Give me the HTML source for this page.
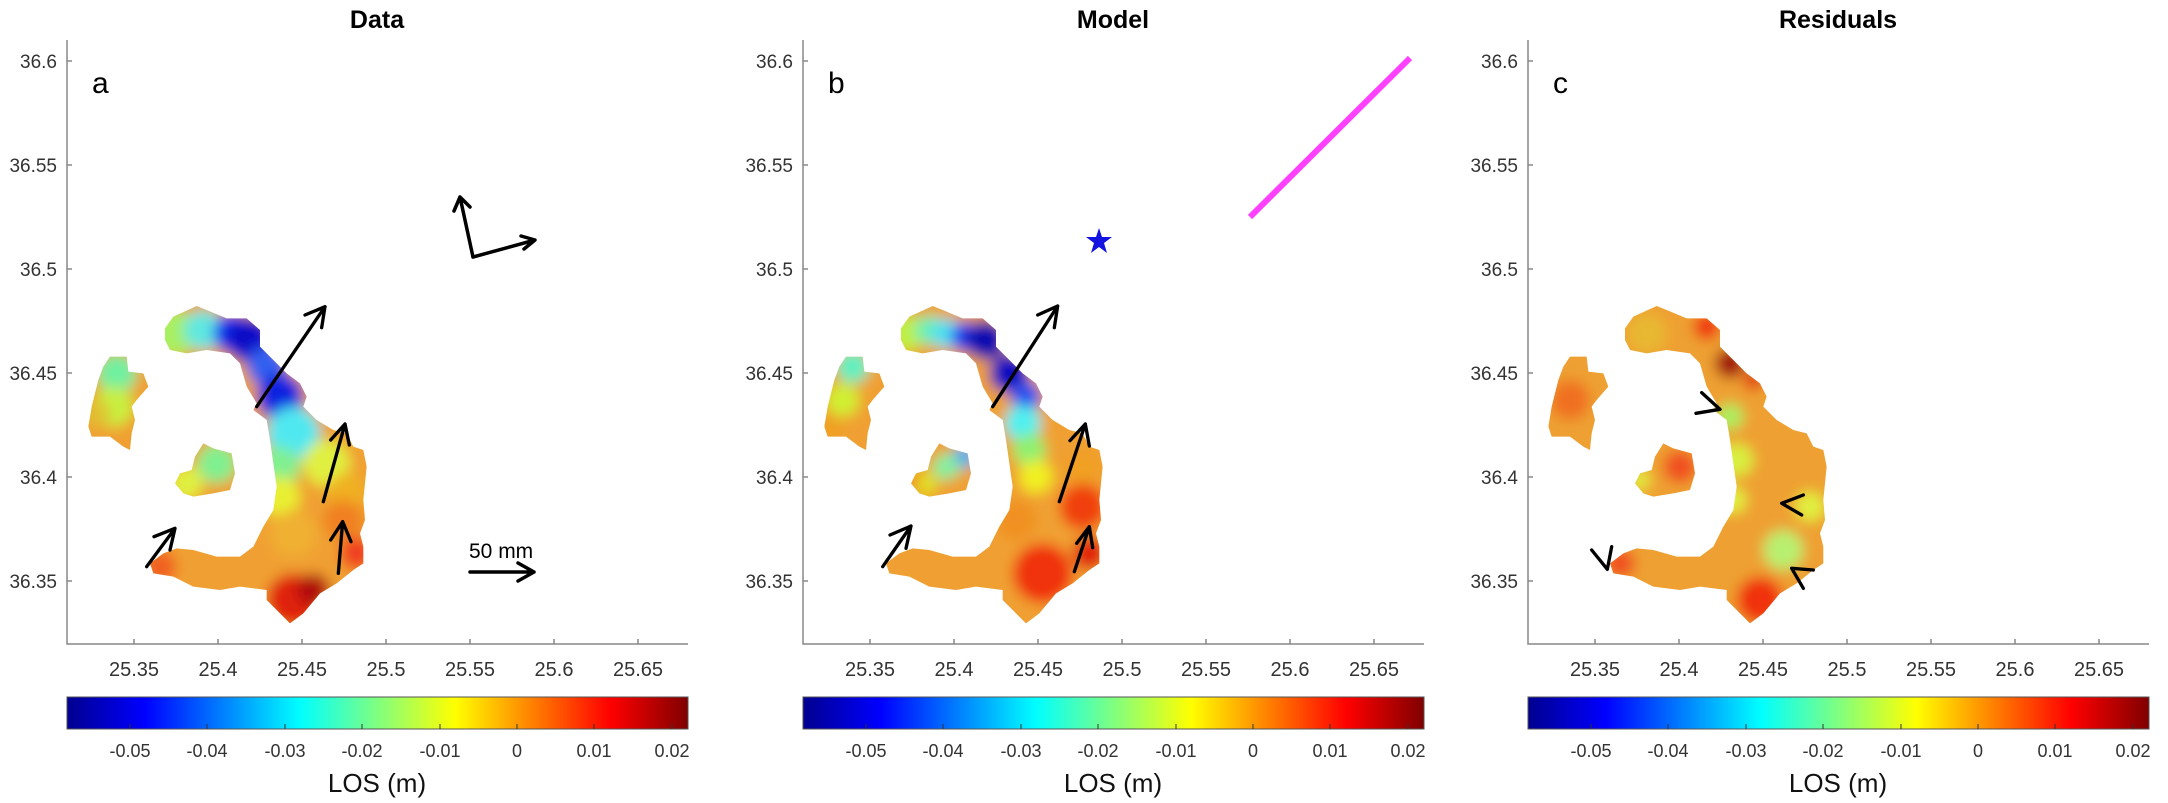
<!DOCTYPE html>
<html><head><meta charset="utf-8"><style>
html,body{margin:0;padding:0;background:#fff;}
svg{display:block;font-family:"Liberation Sans",Arial,sans-serif;}
</style></head><body>
<svg width="2168" height="803" viewBox="0 0 2168 803" xmlns="http://www.w3.org/2000/svg">
<defs>
<linearGradient id="jet" x1="0" x2="1" y1="0" y2="0">
<stop offset="0" stop-color="#00008f"/><stop offset="0.125" stop-color="#0000ff"/>
<stop offset="0.375" stop-color="#00ffff"/><stop offset="0.625" stop-color="#ffff00"/>
<stop offset="0.875" stop-color="#ff0000"/><stop offset="1" stop-color="#800000"/>
</linearGradient>
<clipPath id="isl" clipPathUnits="userSpaceOnUse">
<polygon points="315,385 340,350 410,318 440,330 500,355 560,355 600,390 600,440 640,480 680,520 720,550 740,590 730,620 770,660 820,690 860,700 880,740 910,750 920,800 910,900 915,960 900,1000 910,1040 910,1090 880,1110 830,1150 780,1180 730,1240 690,1270 660,1240 620,1200 620,1170 540,1160 480,1170 400,1160 340,1130 280,1120 270,1090 310,1060 350,1045 400,1050 470,1070 540,1070 580,1040 610,980 640,930 650,860 640,790 630,720 620,660 580,630 590,610 560,560 540,490 510,460 440,450 380,460 330,450 315,420"/>
<polygon points="150,470 200,470 205,515 250,520 265,560 230,600 215,620 225,660 215,700 210,750 190,740 150,710 95,710 85,680 95,620 115,540 130,500"/>
<polygon points="430,730 460,745 515,760 525,820 510,870 460,880 400,890 370,880 345,850 360,820 395,810 405,770"/>
</clipPath>
<filter id="bl" filterUnits="userSpaceOnUse" x="0" y="200" width="1100" height="1200"><feGaussianBlur stdDeviation="20"/></filter>
</defs>

<!-- PANEL A -->
<g>
<text x="377" y="28" text-anchor="middle" font-size="25" font-weight="bold" fill="#000">Data</text>
<text x="92" y="93" font-size="30" fill="#000">a</text>
<g transform="translate(60,200) scale(0.33333)">
<g clip-path="url(#isl)"><g filter="url(#bl)">
<rect x="0" y="250" width="1000" height="1100" fill="#f0a030"/>
<circle cx="340" cy="400" r="70" fill="#a8f060"/>
<circle cx="430" cy="390" r="60" fill="#60e8e0"/>
<circle cx="520" cy="400" r="60" fill="#1030f0"/>
<circle cx="570" cy="420" r="70" fill="#0808c8"/>
<circle cx="620" cy="500" r="60" fill="#3060f0"/>
<circle cx="660" cy="590" r="70" fill="#1020e0"/>
<circle cx="700" cy="700" r="80" fill="#50e8f0"/>
<circle cx="660" cy="800" r="60" fill="#80f090"/>
<circle cx="800" cy="790" r="70" fill="#e0f040"/>
<circle cx="660" cy="890" r="60" fill="#e8f030"/>
<circle cx="860" cy="880" r="60" fill="#f0b020"/>
<circle cx="850" cy="960" r="60" fill="#f08020"/>
<circle cx="700" cy="1000" r="70" fill="#f0b030"/>
<circle cx="300" cy="1100" r="50" fill="#f06020"/>
<circle cx="700" cy="1200" r="80" fill="#e02010"/>
<circle cx="760" cy="1170" r="50" fill="#b01010"/>
<circle cx="890" cy="1060" r="50" fill="#f04020"/>
<circle cx="170" cy="520" r="60" fill="#70f0a0"/>
<circle cx="160" cy="620" r="60" fill="#c8f040"/>
<circle cx="110" cy="640" r="40" fill="#e0c030"/>
<circle cx="470" cy="790" r="60" fill="#80f090"/>
<circle cx="380" cy="850" r="50" fill="#e0f040"/>
</g></g>
<g stroke="#000" stroke-width="10" fill="none" stroke-linecap="round" stroke-linejoin="round">
<path d="M590,620 L795,320 M735,345 L795,320 L785,383"/>
<path d="M790,905 L855,672 M812,720 L855,672 L868,735"/>
<path d="M835,1120 L848,965 M812,1020 L848,965 L873,1025"/>
<path d="M260,1100 L345,985 M282,1010 L345,985 L330,1050"/>
</g>
</g>
<g stroke="#000" stroke-width="3.5" fill="none" stroke-linecap="round" stroke-linejoin="round">
<path d="M473,257 L460,197 M454,211 L460,197 L470,207"/>
<path d="M473,257 L535,240 M521,236 L535,240 L524,249"/>
<path d="M470,572 L534,572 M518,563 L534,572 L518,581"/>
</g>
<text x="469" y="558" font-size="21" fill="#000">50 mm</text>
</g>

<!-- PANEL B -->
<g>
<text x="1113" y="28" text-anchor="middle" font-size="25" font-weight="bold" fill="#000">Model</text>
<text x="828" y="93" font-size="30" fill="#000">b</text>
<g transform="translate(796,200) scale(0.33333)">
<g clip-path="url(#isl)"><g filter="url(#bl)">
<rect x="0" y="250" width="1000" height="1100" fill="#f0a030"/>
<circle cx="330" cy="400" r="55" fill="#c0f040"/>
<circle cx="400" cy="390" r="45" fill="#70f0b0"/>
<circle cx="450" cy="400" r="45" fill="#50e0f0"/>
<circle cx="510" cy="410" r="45" fill="#2040f0"/>
<circle cx="570" cy="420" r="60" fill="#0808b0"/>
<circle cx="640" cy="520" r="60" fill="#0a0ac0"/>
<circle cx="690" cy="590" r="45" fill="#2050f0"/>
<circle cx="680" cy="670" r="55" fill="#50f0f0"/>
<circle cx="700" cy="750" r="50" fill="#90f070"/>
<circle cx="720" cy="830" r="50" fill="#f0f020"/>
<circle cx="860" cy="800" r="50" fill="#f0a020"/>
<circle cx="860" cy="920" r="70" fill="#f04010"/>
<circle cx="660" cy="960" r="60" fill="#f09020"/>
<circle cx="740" cy="1120" r="90" fill="#f03010"/>
<circle cx="880" cy="1060" r="50" fill="#e02010"/>
<circle cx="400" cy="1100" r="80" fill="#f0a030"/>
<circle cx="170" cy="500" r="50" fill="#60f0c0"/>
<circle cx="140" cy="600" r="50" fill="#d0f030"/>
<circle cx="100" cy="690" r="40" fill="#f0a020"/>
<circle cx="505" cy="770" r="35" fill="#40b0f0"/>
<circle cx="450" cy="800" r="40" fill="#80f0a0"/>
<circle cx="390" cy="850" r="35" fill="#e0e020"/>
<circle cx="345" cy="840" r="25" fill="#f09020"/>
</g></g>
<g stroke="#000" stroke-width="10" fill="none" stroke-linecap="round" stroke-linejoin="round">
<path d="M590,620 L785,318 M725,345 L785,318 L775,383"/>
<path d="M790,905 L868,672 M822,722 L868,672 L880,738"/>
<path d="M835,1115 L880,980 M842,1030 L880,980 L890,1043"/>
<path d="M260,1100 L345,978 M282,1005 L345,978 L330,1045"/>
</g>
</g>
<polygon points="1099,228 1102,237 1112,237 1104,243 1107,253 1099,247 1091,253 1094,243 1086,237 1096,237" fill="#1414e0"/>
<line x1="1250" y1="217" x2="1410" y2="58" stroke="#ff40ff" stroke-width="6"/>
</g>

<!-- PANEL C -->
<g>
<text x="1838" y="28" text-anchor="middle" font-size="25" font-weight="bold" fill="#000">Residuals</text>
<text x="1553" y="93" font-size="30" fill="#000">c</text>
<g transform="translate(1520,200) scale(0.33333)">
<g clip-path="url(#isl)"><g filter="url(#bl)">
<rect x="0" y="250" width="1000" height="1100" fill="#eea030"/>
<circle cx="380" cy="400" r="60" fill="#e8b830"/>
<circle cx="560" cy="380" r="40" fill="#f03010"/>
<circle cx="630" cy="490" r="45" fill="#a01010"/>
<circle cx="700" cy="540" r="30" fill="#e03010"/>
<circle cx="630" cy="650" r="40" fill="#a8f060"/>
<circle cx="650" cy="780" r="50" fill="#d8f040"/>
<circle cx="640" cy="900" r="40" fill="#e0f040"/>
<circle cx="870" cy="920" r="45" fill="#e0f040"/>
<circle cx="790" cy="1050" r="60" fill="#b8f070"/>
<circle cx="720" cy="1200" r="70" fill="#f03010"/>
<circle cx="300" cy="1090" r="45" fill="#f05020"/>
<circle cx="150" cy="600" r="60" fill="#f07020"/>
<circle cx="480" cy="800" r="50" fill="#f05020"/>
<circle cx="360" cy="840" r="30" fill="#e0f040"/>
</g></g>
<g stroke="#000" stroke-width="10" fill="none" stroke-linecap="round" stroke-linejoin="round">
<path d="M545,578 L600,628 L528,640"/>
<path d="M850,885 L785,910 L845,945"/>
<path d="M880,1110 L815,1105 L850,1165"/>
<path d="M215,1050 L262,1108 L275,1040"/>
</g>
</g>
</g>

<!-- axes, ticks, colorbars -->
<g id="axesA" fill="#333">
<g stroke="#888" stroke-width="1.5" fill="none">
<path d="M67,40 L67,644 L688,644"/>
<path d="M67,61 h5 M67,165 h5 M67,269 h5 M67,373 h5 M67,477 h5 M67,581 h5"/>
<path d="M134,644 v-5 M218,644 v-5 M302,644 v-5 M386,644 v-5 M470,644 v-5 M554,644 v-5 M638,644 v-5"/>
</g>
<g text-anchor="end" font-size="19"><text x="57" y="68">36.6</text><text x="57" y="172">36.55</text><text x="57" y="276">36.5</text><text x="57" y="380">36.45</text><text x="57" y="484">36.4</text><text x="57" y="588">36.35</text></g>
<g text-anchor="middle" font-size="20"><text x="134" y="676">25.35</text><text x="218" y="676">25.4</text><text x="302" y="676">25.45</text><text x="386" y="676">25.5</text><text x="470" y="676">25.55</text><text x="554" y="676">25.6</text><text x="638" y="676">25.65</text></g>
<rect x="67" y="697" width="621" height="32" fill="url(#jet)" stroke="#555" stroke-width="1"/>
<path d="M130,729 v-5 M207,729 v-5 M285,729 v-5 M362,729 v-5 M440,729 v-5 M517,729 v-5 M594,729 v-5 M672,729 v-5" stroke="#333" stroke-width="1"/>
<g text-anchor="middle" font-size="18"><text x="130" y="757">-0.05</text><text x="207" y="757">-0.04</text><text x="285" y="757">-0.03</text><text x="362" y="757">-0.02</text><text x="440" y="757">-0.01</text><text x="517" y="757">0</text><text x="594" y="757">0.01</text><text x="672" y="757">0.02</text></g>
<text x="377" y="792" text-anchor="middle" font-size="26" fill="#111">LOS (m)</text>
</g>
<use href="#axesA" transform="translate(736,0)"/>
<use href="#axesA" transform="translate(1461,0)"/>
</svg>
</body></html>
